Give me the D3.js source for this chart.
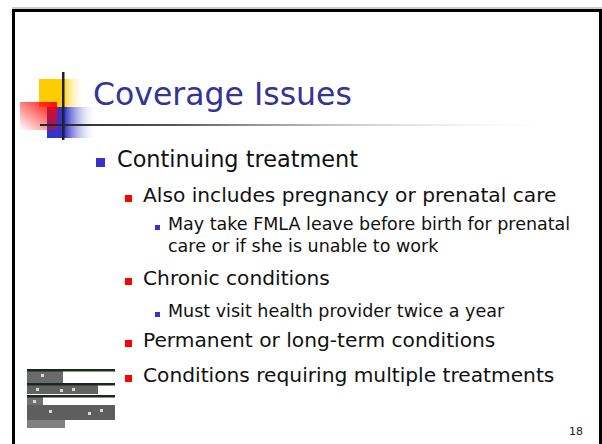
<!DOCTYPE html>
<html>
<head>
<meta charset="utf-8">
<script src="https://cdnjs.cloudflare.com/ajax/libs/d3/7.8.5/d3.min.js"></script>
<style>
  body { margin:0; background:#fff; }
  svg { display:block; }
  text { font-family: "DejaVu Sans", Verdana, sans-serif; }
</style>
</head>
<body>
<div id="slide"></div>
<script>
// slide content
var title = "Coverage Issues";
var bulletLevels = [1, 2, 3, 3, 2, 3, 2, 2];
var bulletTexts = [
  "Continuing treatment",
  "Also includes pregnancy or prenatal care",
  "May take FMLA leave before birth for prenatal",
  "care or if she is unable to work",
  "Chronic conditions",
  "Must visit health provider twice a year",
  "Permanent or long-term conditions",
  "Conditions requiring multiple treatments"
];
// continuation lines carry no bullet
var bulletShown = [true, true, true, false, true, true, true, true];
var baselines = [167, 202, 230, 252, 285, 317, 347, 382];
var pageNumber = "18";

var width = 602, height = 444;

var svg = d3.select('#slide').append('svg')
  .attr('width', width)
  .attr('height', height);

var defs = svg.append('defs');

function hGrad(id, stops, x1, x2, y1, y2) {
  var g = defs.append('linearGradient').attr('id', id)
    .attr('x1', x1 || '0%').attr('x2', x2 || '100%')
    .attr('y1', y1 || '0%').attr('y2', y2 || '0%');
  stops.forEach(function(s) {
    g.append('stop').attr('offset', s[0]).attr('stop-color', s[1]).attr('stop-opacity', s[2] === undefined ? 1 : s[2]);
  });
}

hGrad('yel', [['0%', '#ffcc00'], ['50%', '#ffcc00'], ['100%', '#ffffff', 0]]);
hGrad('blu', [['0%', '#3333cc'], ['35%', '#3333cc'], ['100%', '#ffffff', 0]]);
hGrad('red', [['0%', '#ff0000', 0], ['100%', '#ff0000', 1]], '0%', '100%', '100%', '0%');
hGrad('rule', [['0%', '#222222'], ['25%', '#555555'], ['100%', '#ffffff', 0]]);

// slide border
svg.append('line').attr('x1', 12).attr('x2', 602).attr('y1', 8).attr('y2', 8)
  .attr('stroke', '#999').attr('stroke-width', 1);
svg.append('rect')
  .attr('x', 13.5).attr('y', 10.5)
  .attr('width', 587).attr('height', 460)
  .attr('fill', 'none').attr('stroke', '#000').attr('stroke-width', 3);

// logo
var logo = svg.append('g');
logo.append('rect').attr('x', 39).attr('y', 79).attr('width', 46).attr('height', 28).attr('fill', 'url(#yel)');
logo.append('rect').attr('x', 47).attr('y', 107).attr('width', 50).attr('height', 31).attr('fill', 'url(#blu)');
logo.append('rect').attr('x', 20).attr('y', 102).attr('width', 37).attr('height', 28).attr('fill', 'url(#red)');
logo.append('rect').attr('x', 40).attr('y', 124).attr('width', 530).attr('height', 2).attr('fill', 'url(#rule)');
logo.append('rect').attr('x', 62).attr('y', 72).attr('width', 2.5).attr('height', 68).attr('fill', '#222');

// title
svg.append('text')
  .attr('x', 93).attr('y', 105)
  .attr('font-size', 31.5)
  .attr('fill', '#333399')
  .text(title);

// bullets
var levelX = d3.scaleOrdinal().domain([1, 2, 3]).range([96, 125, 155]);
var textX = d3.scaleOrdinal().domain([1, 2, 3]).range([117, 143, 168]);
var fontSize = d3.scaleOrdinal().domain([1, 2, 3]).range([22.4, 20.2, 17.5]);
var markSize = d3.scaleOrdinal().domain([1, 2, 3]).range([9, 7, 5]);
var markColor = d3.scaleOrdinal().domain([1, 2, 3]).range(['#3333cc', '#ff0000', '#3333cc']);

var rows = bulletTexts.map(function(t, i) {
  return { text: t, level: bulletLevels[i], y: baselines[i], shown: bulletShown[i] };
});

var g = svg.append('g');
g.selectAll('rect.mark')
  .data(rows.filter(function(d) { return d.shown; }))
  .enter().append('rect')
  .attr('class', 'mark')
  .attr('x', function(d) { return levelX(d.level); })
  .attr('y', function(d) { return d.y - markSize(d.level); })
  .attr('width', function(d) { return markSize(d.level); })
  .attr('height', function(d) { return markSize(d.level); })
  .attr('fill', function(d) { return markColor(d.level); });

g.selectAll('text.item')
  .data(rows)
  .enter().append('text')
  .attr('class', 'item')
  .attr('x', function(d) { return textX(d.level); })
  .attr('y', function(d) { return d.y; })
  .attr('font-size', function(d) { return fontSize(d.level); })
  .attr('fill', '#111')
  .text(function(d) { return d.text; });

// scanned picture at bottom left
var picBlocks = [
  [27, 371, 36, 12, '#6a6a6a'], [27, 385, 71, 9, '#626262'], [27, 397, 16, 8, '#707070'],
  [27, 405, 88, 15, '#5e5e5e'], [27, 420, 38, 8, '#808080']
];
var picLines = [369, 383, 395];
var pic = svg.append('g');
pic.selectAll('rect.blk').data(picBlocks).enter().append('rect')
  .attr('x', function(d) { return d[0]; }).attr('y', function(d) { return d[1]; })
  .attr('width', function(d) { return d[2]; }).attr('height', function(d) { return d[3]; })
  .attr('fill', function(d) { return d[4]; });
pic.selectAll('rect.ln').data(picLines).enter().append('rect')
  .attr('x', 27).attr('y', function(d) { return d; })
  .attr('width', 88).attr('height', 2.5).attr('fill', '#1a2a1a');
var specks = [[41, 374], [36, 388], [60, 389], [72, 388], [49, 410], [88, 412], [100, 409], [33, 400]];
pic.selectAll('rect.sp').data(specks).enter().append('rect')
  .attr('x', function(d) { return d[0]; }).attr('y', function(d) { return d[1]; })
  .attr('width', 3).attr('height', 3).attr('fill', '#d8d8d8');

// page number
svg.append('text')
  .attr('x', 583).attr('y', 435)
  .attr('text-anchor', 'end')
  .attr('font-size', 11)
  .attr('fill', '#222')
  .text(pageNumber);
</script>
</body>
</html>
